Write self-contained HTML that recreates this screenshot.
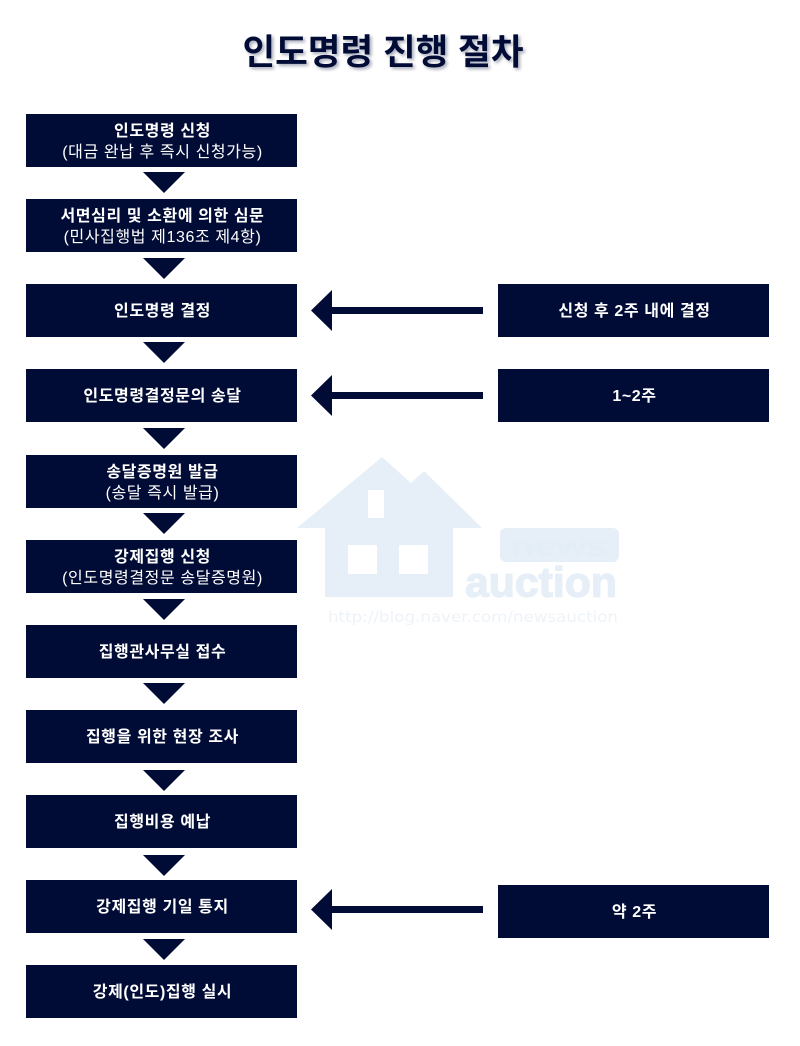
<!DOCTYPE html>
<html lang="ko"><head><meta charset="utf-8"><title>인도명령 진행 절차</title>
<style>
html,body{margin:0;padding:0;background:#fff}
#p{position:relative;width:800px;height:1046px;overflow:hidden;background:#fff;font-family:"Liberation Sans","Noto Sans CJK KR",sans-serif}
.b{position:absolute;left:26px;width:271px;height:53px;padding:2px 0 0 2px;box-sizing:border-box;background:#000b36;color:#fff;text-align:center;font-size:16px;letter-spacing:.6px;line-height:21px;display:flex;flex-direction:column;justify-content:center;font-weight:700}
.b span{font-weight:400}
.r{left:498px}
h1{position:absolute;left:0;top:28px;width:766px;margin:0;text-align:center;font-size:35.500px;line-height:48px;color:#000b36;font-weight:700;text-shadow:2px 2px 3px rgba(0,11,54,.35)}
svg{position:absolute;left:0;top:0}
</style></head><body><div id="p">
<svg width="800" height="1046" viewBox="0 0 800 1046">
<g fill="#e6eff7">
<path fill-rule="evenodd" d="M382 457L411 483L424 471L482 528H453V597H325V528H297ZM368 490V518H384V490ZM348 545V574H377V545ZM399 545V574H428V545Z"/>
<rect x="500" y="528" width="119" height="34" rx="6"/>
<text x="465" y="596.500" font-family="Liberation Sans" font-size="42" font-weight="700" stroke="#e6eff7" stroke-width="1.400" textLength="152" lengthAdjust="spacingAndGlyphs">auction</text>
<text x="328" y="622" font-family="DejaVu Sans" font-size="15.500" textLength="290" lengthAdjust="spacingAndGlyphs" fill="#eef3f8">http://blog.naver.com/newsauction</text>
</g>
<text x="511" y="556" font-family="Liberation Sans" font-size="29" font-weight="700" fill="#e3edf6" textLength="97" lengthAdjust="spacingAndGlyphs">news</text>
<g fill="#000b36">
<path d="M143 172H185L164 193Z"/><path d="M143 258H185L164 279Z"/><path d="M143 342H185L164 363Z"/><path d="M143 428H185L164 449Z"/><path d="M143 513H185L164 534Z"/><path d="M143 599H185L164 620Z"/><path d="M143 683H185L164 704Z"/><path d="M143 770H185L164 791Z"/><path d="M143 855H185L164 876Z"/><path d="M143 939H185L164 960Z"/>
<path d="M311 310.500L332 290V307H483V314H332V331Z"/>
<path d="M311 395.500L332 375V392H483V399H332V416Z"/>
<path d="M311 909.500L332 889V906H483V913H332V930Z"/>
</g>
</svg>
<h1>인도명령 진행 절차</h1>
<div class="b" style="top:114px">인도명령 신청<span>(대금 완납 후 즉시 신청가능)</span></div>
<div class="b" style="top:199px">서면심리 및 소환에 의한 심문<span>(민사집행법 제136조 제4항)</span></div>
<div class="b" style="top:284px">인도명령 결정</div>
<div class="b" style="top:369px">인도명령결정문의 송달</div>
<div class="b" style="top:455px">송달증명원 발급<span>(송달 즉시 발급)</span></div>
<div class="b" style="top:540px">강제집행 신청<span>(인도명령결정문 송달증명원)</span></div>
<div class="b" style="top:625px">집행관사무실 접수</div>
<div class="b" style="top:710px">집행을 위한 현장 조사</div>
<div class="b" style="top:795px">집행비용 예납</div>
<div class="b" style="top:880px">강제집행 기일 통지</div>
<div class="b" style="top:965px">강제(인도)집행 실시</div>
<div class="b r" style="top:284px">신청 후 2주 내에 결정</div>
<div class="b r" style="top:369px">1~2주</div>
<div class="b r" style="top:885px">약 2주</div>
</div></body></html>
